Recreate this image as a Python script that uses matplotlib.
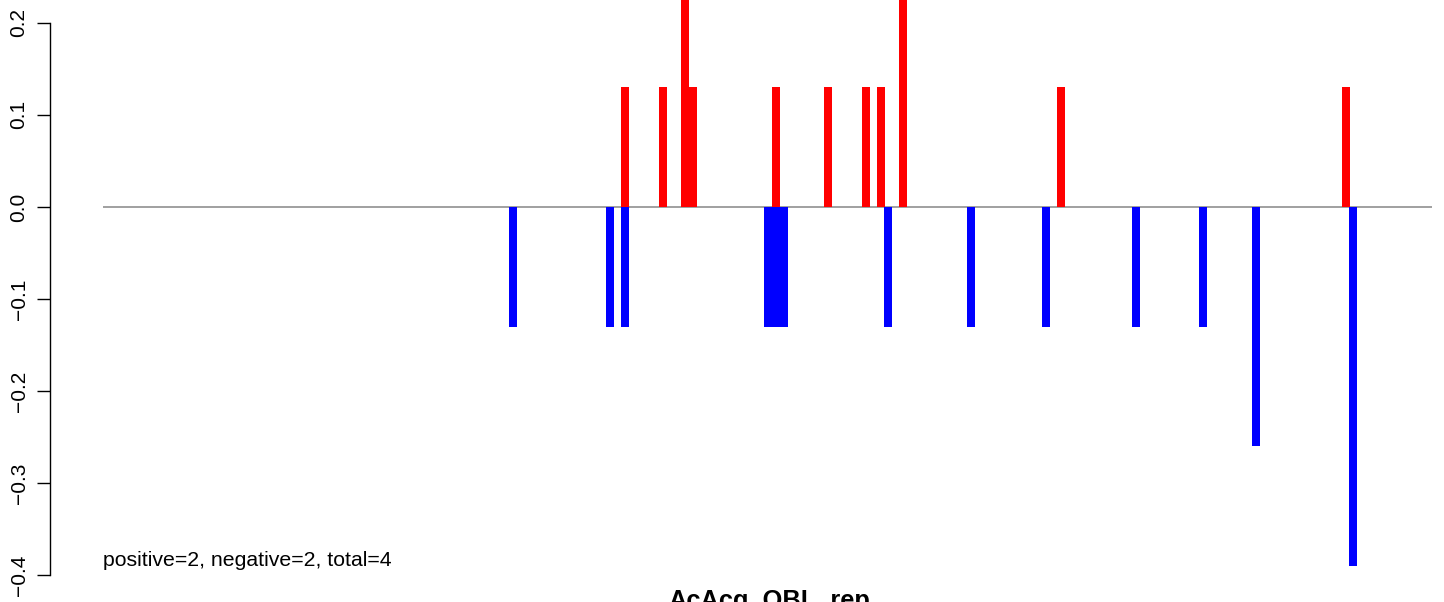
import numpy as np
import matplotlib.pyplot as plt

plt.rcParams['font.family'] = ['Liberation Sans', 'DejaVu Sans']

# bar positions (bin index, one bin = one bar width) and values
pos_x = [65.25, 70.0, 72.75, 73.75, 84.125, 90.6, 95.4, 97.25, 100.0, 119.75, 155.4]
pos_y = [0.13, 0.13, 0.26, 0.13, 0.13, 0.13, 0.13, 0.13, 0.26, 0.13, 0.13]
neg_x = [51.25, 63.4, 65.25, 83.125, 84.125, 85.125, 98.1, 108.5, 117.9, 129.1,
         137.5, 144.1, 156.25]
neg_y = [-0.13, -0.13, -0.13, -0.13, -0.13, -0.13, -0.13, -0.13, -0.13, -0.13,
         -0.13, -0.26, -0.39]
n_bins = 166.1
yticks = [-0.4, -0.3, -0.2, -0.1, 0.0, 0.1, 0.2]
title = "AcAcg_OBL_rep"
note = "positive=2, negative=2, total=4"

W, H = 1444, 602
fig = plt.figure(figsize=(W / 100, H / 100), dpi=100)
ax = fig.add_axes([103 / W, (H - 593.8) / H, 1329 / W, (593.8 + 23.3) / H])

ax.bar(pos_x, pos_y, width=1.0, color='red', linewidth=0)
ax.bar(neg_x, neg_y, width=1.0, color='blue', linewidth=0)
ax.axhline(0, color='#a0a0a0', linewidth=1.4, zorder=0)

ax.set_xlim(0, n_bins)
ax.set_ylim(-0.42, 0.25)

for s in ['top', 'right', 'bottom']:
    ax.spines[s].set_visible(False)
# spine offset of 53 px, given in points
ax.spines['left'].set_position(('outward', 53 * 0.72))
ax.spines['left'].set_bounds(-0.4, 0.2)
ax.spines['left'].set_linewidth(1.0)
ax.set_xticks([])
ax.set_yticks(yticks)
ax.set_yticklabels([f"{t:.1f}".replace('-', '\u2212') for t in yticks],
                   rotation=90, va='center', fontsize=15)
ax.tick_params(axis='y', length=9.4, width=1.0, pad=6)

ax.text(0, -0.39, note, fontsize=15.3, ha='left', va='baseline')
fig.text(769 / W, -6 / H, title, fontsize=18.3, fontweight='bold',
         ha='center', va='baseline')

fig.savefig('out.png', dpi=100)
